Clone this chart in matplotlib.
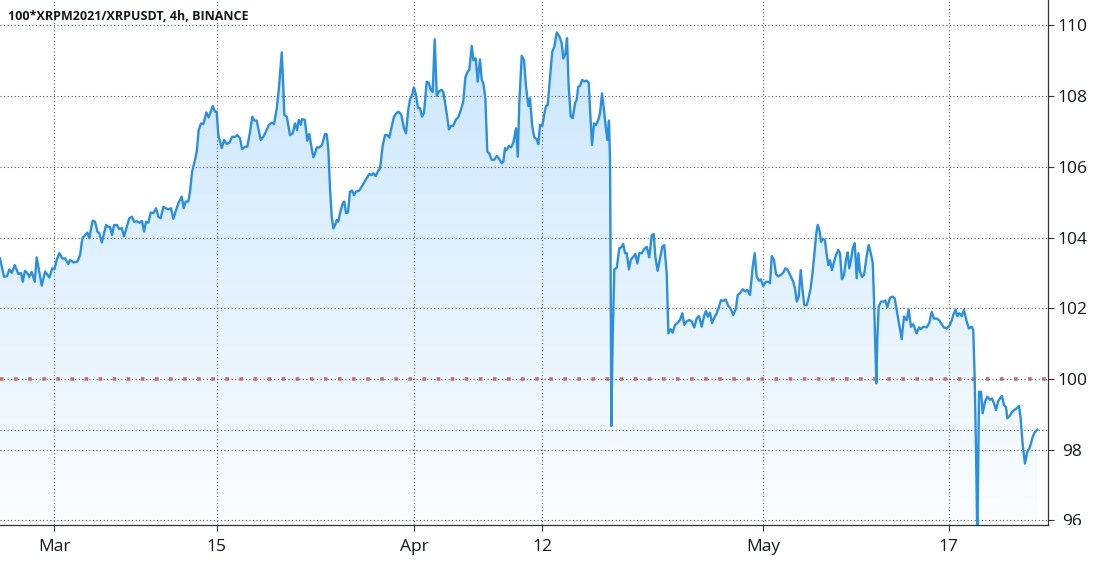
import matplotlib
matplotlib.use("Agg")
import matplotlib.pyplot as plt
import matplotlib.dates as mdates
import numpy as np
import pandas as pd
from matplotlib.colors import LinearSegmentedColormap
from matplotlib.patches import Polygon
from matplotlib.transforms import Bbox

plt.rcParams['font.family'] = ['Open Sans', 'DejaVu Sans']

title = "100*XRPM2021/XRPUSDT, 4h, BINANCE"
start = "2021-03-01"

# position of each close, in days after 1 March 2021
days = [
    -4.65, -4.30, -4.04, -3.85, -3.64, -3.38, -3.07, -2.84, -2.69, -2.50,
    -2.30, -2.13, -1.92, -1.66, -1.49, -1.29, -1.06, -0.77, -0.40, -0.15,
    0.03, 0.23, 0.46, 0.71, 0.95, 1.23, 1.38, 1.66, 2.01, 2.24,
    2.44, 2.67, 2.87, 3.04, 3.16, 3.33, 3.53, 3.73, 3.90, 4.11,
    4.30, 4.48, 4.67, 4.82, 4.99, 5.16, 5.40, 5.62, 5.83, 6.02,
    6.26, 6.48, 6.71, 6.88, 7.14, 7.34, 7.57, 7.75, 7.92, 8.12,
    8.32, 8.55, 8.78, 8.98, 9.18, 9.41, 9.61, 9.84, 10.07, 10.27,
    10.50, 10.70, 10.99, 11.16, 11.33, 11.56, 11.70, 11.88, 12.13, 12.28,
    12.45, 12.65, 12.85, 13.11, 13.31, 13.66, 13.86, 14.00, 14.14, 14.43,
    14.63, 14.86, 15.09, 15.32, 15.58, 15.77, 16.01, 16.18, 16.44, 16.64,
    16.87, 17.07, 17.24, 17.44, 17.79, 18.01, 18.24, 18.50, 18.74, 18.93,
    19.17, 19.34, 19.60, 19.73, 19.82, 20.03, 20.31, 20.54, 20.74, 20.91,
    21.06, 21.23, 21.34, 21.58, 21.80, 21.97, 22.12, 22.32, 22.46, 22.61,
    22.83, 23.06, 23.32, 23.47, 23.61, 23.75, 23.90, 24.04, 24.18, 24.33,
    24.47, 24.61, 24.85, 24.98, 25.13, 25.30, 25.47, 25.65, 25.82, 25.99,
    26.27, 26.57, 26.85, 27.13, 27.34, 27.48, 27.69, 27.86, 28.06, 28.29,
    28.49, 28.68, 28.86, 29.06, 29.26, 29.49, 29.66, 29.89, 30.12, 30.29,
    30.49, 30.64, 30.78, 30.98, 31.15, 31.33, 31.50, 31.67, 31.84, 32.07,
    32.25, 32.42, 32.59, 32.76, 32.94, 33.13, 33.37, 33.50, 33.71, 33.99,
    34.17, 34.36, 34.60, 34.79, 35.03, 35.22, 35.40, 35.60, 35.74, 35.95,
    36.09, 36.29, 36.46, 36.66, 36.81, 36.95, 37.12, 37.29, 37.46, 37.67,
    37.87, 38.10, 38.32, 38.53, 38.67, 38.81, 38.96, 39.13, 39.33, 39.53,
    39.76, 39.91, 40.04, 40.25, 40.45, 40.62, 40.82, 40.96, 41.16, 41.33,
    41.54, 41.68, 41.83, 42.02, 42.20, 42.34, 42.49, 42.69, 42.88, 43.06,
    43.26, 43.49, 43.69, 43.83, 44.00, 44.15, 44.29, 44.47, 44.64, 44.84,
    44.98, 45.12, 45.27, 45.44, 45.61, 45.84, 46.02, 46.13, 46.30, 46.47,
    46.64, 46.84, 46.99, 47.16, 47.33, 47.48, 47.62, 47.76, 47.85, 47.91,
    47.96, 48.08, 48.22, 48.43, 48.65, 48.80, 48.99, 49.14, 49.29, 49.48,
    49.63, 49.85, 50.03, 50.20, 50.37, 50.58, 50.78, 51.01, 51.23, 51.44,
    51.61, 51.75, 51.95, 52.15, 52.35, 52.52, 52.73, 52.87, 53.07, 53.24,
    53.44, 53.64, 53.87, 54.07, 54.24, 54.45, 54.67, 54.88, 55.10, 55.31,
    55.51, 55.74, 55.94, 56.11, 56.26, 56.45, 56.63, 56.80, 57.03, 57.23,
    57.40, 57.60, 57.81, 58.03, 58.18, 58.46, 58.69, 58.84, 59.04, 59.27,
    59.47, 59.67, 59.90, 60.13, 60.30, 60.47, 60.67, 60.82, 61.04, 61.25,
    61.47, 61.62, 61.77, 61.96, 62.13, 62.33, 62.57, 62.76, 62.94, 63.11,
    63.28, 63.43, 63.62, 63.77, 63.92, 64.09, 64.26, 64.43, 64.57, 64.78,
    64.91, 65.12, 65.29, 65.43, 65.58, 65.72, 65.86, 66.01, 66.15, 66.35,
    66.50, 66.64, 66.78, 66.95, 67.13, 67.30, 67.50, 67.64, 67.81, 67.99,
    68.16, 68.30, 68.44, 68.61, 68.74, 68.91, 69.08, 69.22, 69.36, 69.54,
    69.71, 69.94, 70.11, 70.29, 70.46, 70.57, 70.68, 70.77, 70.85, 70.97,
    71.17, 71.37, 71.54, 71.71, 71.95, 72.18, 72.35, 72.52, 72.72, 72.95,
    73.15, 73.38, 73.55, 73.75, 73.95, 74.24, 74.44, 74.61, 74.81, 75.10,
    75.33, 75.53, 75.73, 75.96, 76.19, 76.39, 76.59, 76.82, 77.05, 77.26,
    77.39, 77.60, 77.74, 77.91, 78.12, 78.31, 78.55, 78.74, 78.98, 79.11,
    79.23, 79.35, 79.46, 79.61, 79.78, 79.92, 80.12, 80.32, 80.55, 80.72,
    80.90, 81.07, 81.24, 81.41, 81.58, 81.76, 81.93, 82.04, 82.21, 82.42,
    82.62, 82.85, 83.05, 83.19, 83.37, 83.56, 83.76, 83.94, 84.08, 84.23,
    84.43, 84.62,
]

price = [
    103.41, 102.89, 102.91, 103.10, 103.00, 103.22, 102.97, 103.00, 102.75, 103.06,
    103.00, 102.89, 103.03, 102.75, 103.44, 103.06, 102.64, 103.04, 102.87, 103.13,
    103.10, 103.37, 103.56, 103.41, 103.41, 103.25, 103.37, 103.30, 103.32, 103.51,
    103.98, 104.07, 104.14, 103.98, 104.21, 104.48, 104.45, 104.17, 104.12, 103.86,
    104.12, 104.36, 104.30, 104.30, 104.07, 104.35, 104.36, 104.24, 104.27, 104.03,
    104.30, 104.55, 104.59, 104.45, 104.46, 104.42, 104.47, 104.17, 104.45, 104.42,
    104.71, 104.69, 104.83, 104.59, 104.55, 104.87, 104.83, 104.80, 104.83, 104.53,
    104.78, 104.97, 105.16, 104.83, 105.02, 105.02, 105.30, 105.86, 106.19, 106.43,
    107.04, 107.23, 107.21, 107.54, 107.40, 107.72, 107.56, 107.56, 106.90, 106.53,
    106.76, 106.65, 106.68, 106.85, 106.85, 106.90, 106.81, 106.50, 106.57, 106.57,
    107.00, 107.42, 107.31, 107.31, 106.76, 106.85, 107.00, 107.19, 107.25, 107.21,
    107.66, 108.18, 109.24, 108.27, 107.47, 107.42, 106.90, 106.95, 107.23, 107.04,
    107.33, 107.19, 107.35, 107.33, 106.74, 106.93, 106.62, 106.27, 106.38, 106.55,
    106.55, 106.62, 106.93, 106.92, 106.48, 105.40, 104.59, 104.26, 104.35, 104.50,
    104.45, 104.69, 104.97, 105.02, 104.69, 104.71, 105.30, 105.33, 105.20, 105.30,
    105.33, 105.49, 105.65, 105.80, 105.77, 105.82, 105.74, 105.87, 105.96, 106.62,
    106.90, 106.90, 106.83, 107.14, 107.42, 107.53, 107.56, 107.47, 107.09, 106.95,
    107.63, 107.92, 107.99, 108.25, 108.03, 107.66, 107.66, 107.42, 107.52, 108.41,
    108.38, 108.18, 108.12, 109.61, 108.01, 108.14, 108.18, 108.12, 107.70, 107.06,
    107.16, 107.16, 107.35, 107.40, 107.63, 107.85, 108.53, 108.69, 108.75, 109.42,
    109.02, 109.07, 108.41, 109.04, 108.47, 108.36, 107.94, 106.43, 106.38, 106.20,
    106.20, 106.31, 106.22, 106.10, 106.15, 106.53, 106.48, 106.59, 106.55, 106.69,
    107.09, 106.29, 107.80, 109.14, 109.02, 108.27, 107.72, 107.94, 107.14, 106.84,
    106.78, 106.64, 107.19, 107.16, 107.50, 107.72, 107.75, 108.55, 109.26, 109.40,
    109.80, 109.69, 109.50, 109.07, 109.18, 109.64, 108.27, 107.42, 107.38, 107.80,
    107.90, 108.27, 108.29, 108.46, 108.42, 108.44, 108.38, 107.61, 106.62, 107.23,
    107.18, 107.33, 107.52, 108.08, 107.61, 107.14, 106.76, 107.31, 106.20, 102.61,
    98.67, 101.20, 103.10, 103.15, 103.70, 103.72, 103.82, 103.56, 103.56, 103.10,
    103.37, 103.46, 103.54, 103.27, 103.56, 103.56, 103.67, 103.74, 103.44, 104.07,
    104.10, 103.46, 103.06, 103.41, 103.74, 103.79, 102.99, 101.29, 101.41, 101.31,
    101.53, 101.58, 101.67, 101.86, 101.53, 101.63, 101.67, 101.63, 101.46, 101.72,
    101.78, 101.48, 101.78, 101.93, 101.76, 101.88, 101.58, 101.72, 101.86, 102.05,
    102.23, 102.21, 102.25, 102.06, 102.02, 101.81, 102.00, 102.38, 102.43, 102.54,
    102.48, 102.52, 102.38, 103.18, 103.56, 102.89, 102.78, 102.82, 102.63, 102.75,
    102.75, 102.71, 103.48, 103.37, 102.97, 102.90, 102.95, 103.01, 103.13, 103.10,
    102.99, 102.89, 102.75, 102.56, 102.19, 102.33, 103.08, 102.47, 102.09, 102.09,
    102.25, 102.57, 103.04, 103.51, 104.07, 104.36, 104.23, 103.88, 103.97, 103.92,
    103.51, 103.22, 103.36, 103.08, 103.32, 103.51, 103.65, 103.56, 102.82, 102.94,
    103.39, 103.58, 103.13, 103.41, 103.70, 103.84, 102.85, 103.56, 103.04, 102.89,
    102.94, 103.48, 103.79, 103.56, 103.29, 102.23, 100.91, 99.88, 101.10, 102.05,
    102.19, 102.19, 102.22, 102.03, 102.30, 102.33, 102.28, 101.95, 101.58, 101.13,
    101.77, 101.66, 101.97, 101.48, 101.55, 101.29, 101.46, 101.41, 101.48, 101.46,
    101.59, 101.90, 101.71, 101.71, 101.66, 101.55, 101.46, 101.43, 101.50, 101.66,
    101.81, 101.97, 101.78, 101.86, 101.78, 101.95, 101.62, 101.43, 101.48, 101.39,
    100.07, 97.99, 95.40, 99.64, 99.64, 99.03, 99.36, 99.50, 99.41, 99.45,
    99.31, 99.12, 99.36, 99.45, 99.52, 99.26, 99.21, 98.89, 98.94, 99.05,
    99.12, 99.17, 99.24, 98.89, 98.13, 97.61, 97.94, 98.04, 98.18, 98.37,
    98.51, 98.56,
]

tick_dates = ["2021-03-01", "2021-03-15", "2021-04-01", "2021-04-12", "2021-05-01", "2021-05-17"]
tick_labels = ["Mar", "15", "Apr", "12", "May", "17"]
price_ticks = [96, 98, 100, 102, 104, 106, 108, 110]
parity = 100

view_start = "2021-02-24 08:24"
view_end = "2021-05-25 12:00"
price_min, price_max = 95.86, 110.72

line_color = "#2b8fe0"
grid_color = "#4f5b66"
text_color = "#131722"

t = pd.Timestamp(start) + pd.to_timedelta(days, unit="D")
x = mdates.date2num(t.to_pydatetime())
y = np.array(price)
x0 = mdates.date2num(pd.Timestamp(view_start))
x1 = mdates.date2num(pd.Timestamp(view_end))

fig = plt.figure(figsize=(11.02, 5.65), dpi=100)
ax = fig.add_axes([0, 0.0701, 1047.5 / 1102, 0.9299])
ax.set_xlim(x0, x1)
ax.set_ylim(price_min, price_max)

# gradient area under the line
cmap = LinearSegmentedColormap.from_list(
    "area", [(0.13, 0.59, 0.95, 0.02), (0.13, 0.59, 0.95, 0.25)])
grad = np.linspace(0, 1, 256).reshape(-1, 1)
img = ax.imshow(grad, cmap=cmap, aspect="auto", origin="lower",
                extent=[x0, x1, price_min, price_max], zorder=1)
poly_pts = np.vstack([np.column_stack([x, y]),
                      [[x[-1], price_min - 5], [x[0], price_min - 5]]])
poly = Polygon(poly_pts, closed=True, facecolor="none", edgecolor="none")
ax.add_patch(poly)
img.set_clip_path(poly)

# grid
dots = (0, (1, 2.2))
for p in price_ticks:
    ax.axhline(p, color=grid_color, lw=0.8, ls=dots, zorder=2)
for d in tick_dates:
    ax.axvline(mdates.date2num(pd.Timestamp(d)), color=grid_color, lw=0.8,
               ls=dots, zorder=2)
ax.axhline(price[-1], color=grid_color, lw=0.8, ls=dots, zorder=2)
ax.axhline(parity, color="#c76b6b", lw=2.6, ls=(0, (1, 2.9)),
           dash_capstyle="butt", zorder=3)

ax.plot(x, y, color=line_color, lw=1.7, zorder=4, solid_joinstyle="round")

# axes styling
for s in ["left", "top"]:
    ax.spines[s].set_visible(False)
for s in ["right", "bottom"]:
    ax.spines[s].set_color("#333333")
    ax.spines[s].set_linewidth(0.9)

ax.yaxis.tick_right()
ax.set_yticks(price_ticks)
ax.set_yticklabels([str(p) for p in price_ticks])
ax.tick_params(axis="y", length=4, width=0.8, color="#333333", pad=14,
               labelsize=12.5, labelcolor=text_color)
# price labels are cut off by the time-axis line, like in the original
clip = Bbox.from_extents(1040, 565 - 525, 1102, 565)
for lab in ax.get_yticklabels():
    lab.set_horizontalalignment("center")
    lab.set_clip_box(clip)
    lab.set_clip_on(True)

ax.set_xticks([mdates.date2num(pd.Timestamp(d)) for d in tick_dates])
ax.set_xticklabels(tick_labels)
ax.tick_params(axis="x", length=4, width=0.8, color="#333333", pad=6,
               labelsize=12.5, labelcolor=text_color)

fig.text(8 / 1102, 1 - 16 / 565, title, fontsize=9, fontweight="bold",
         color=text_color, va="center", ha="left")

fig.savefig("out.png", dpi=100, facecolor="white")
